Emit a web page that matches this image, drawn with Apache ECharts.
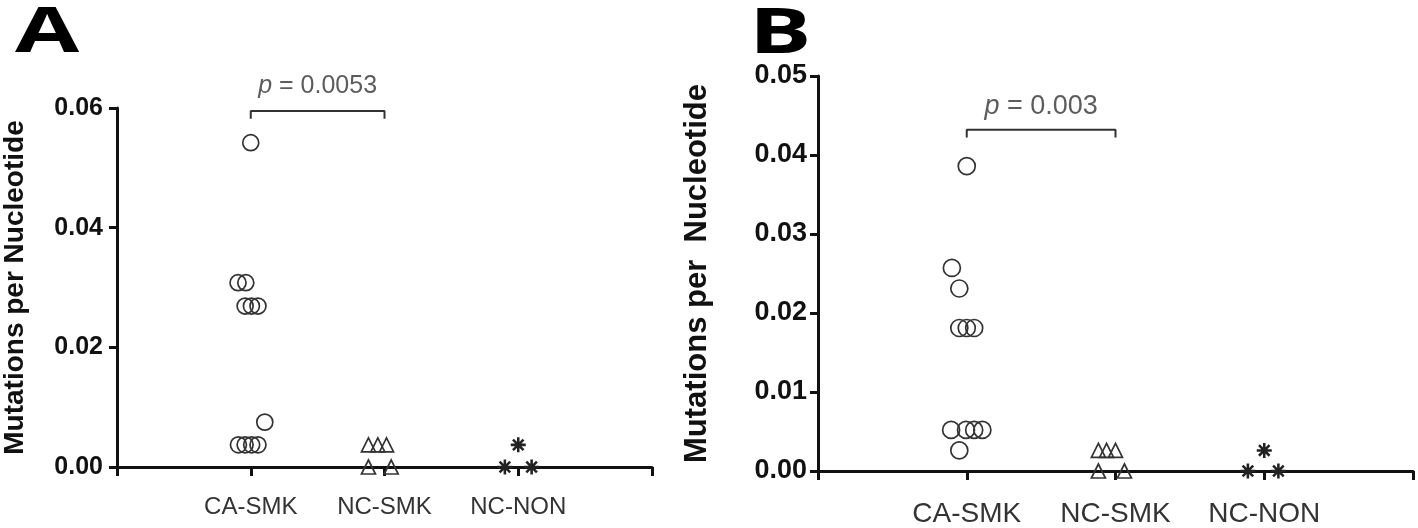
<!DOCTYPE html>
<html>
<head>
<meta charset="utf-8">
<title>Mutations per Nucleotide</title>
<script src="https://cdn.jsdelivr.net/npm/echarts@6/dist/echarts.min.js"></script>
<style>
  html, body { margin: 0; padding: 0; background: #fff; }
  #main { width: 1418px; height: 528px; }
</style>
</head>
<body>
<div id="main"></div>
<script>
// 分组
const categories = ['CA-SMK', 'NC-SMK', 'NC-NON'];

// A 图：数值 + 横向抖动（以分组宽度为单位）
const caSmkA = [0.0542, 0.0308, 0.0308, 0.0269, 0.0269, 0.0269, 0.0075, 0.0037, 0.0037, 0.0037, 0.0037];
const caSmkAJitter = [0, -0.095, -0.037, -0.042, 0.005, 0.054, 0.105, -0.092, -0.042, 0.007, 0.054];
const ncSmkA = [0.0037, 0.0037, 0.0037, 0, 0];
const ncSmkAJitter = [-0.12, -0.05, 0.015, -0.12, 0.05];
const ncNonA = [0.0037, 0, 0];
const ncNonAJitter = [0, -0.1, 0.1];

// B 图
const caSmkB = [0.0386, 0.0257, 0.0231, 0.0181, 0.0181, 0.0181, 0.0052, 0.0052, 0.0052, 0.0052, 0.0026];
const caSmkBJitter = [0, -0.1, -0.05, -0.05, 0, 0.05, -0.105, -0.005, 0.05, 0.105, -0.05];
const ncSmkB = [0.0026, 0.0026, 0.0026, 0, 0];
const ncSmkBJitter = [-0.115, -0.06, 0, -0.115, 0.06];
const ncNonB = [0.0026, 0, 0];
const ncNonBJitter = [0, -0.11, 0.095];

// 显著性标注：[横线高度, 竖脚下端]
const bracketA = [0.0595, 0.0582];
const bracketB = [0.0432, 0.0422];
const pValueA = '0.0053';
const pValueB = '0.003';

const yTicksA = { min: 0, max: 0.06, interval: 0.02 };
const yTicksB = { min: 0, max: 0.05, interval: 0.01 };

const markColor = '#333';
const fontFamily = '"Liberation Sans", Arial, sans-serif';

/**
 * 星号符号（8 条细杆组成）
 */
function asteriskPath() {
  let d = '';
  const c = 10, L = 10, w = 1.7;
  [0, 45, 90, 135].forEach(function (deg) {
    const a = deg * Math.PI / 180;
    const ux = Math.cos(a), uy = Math.sin(a);
    const px = -uy * w, py = ux * w;
    const pts = [
      [c + ux * L + px, c + uy * L + py],
      [c + ux * L - px, c + uy * L - py],
      [c - ux * L - px, c - uy * L - py],
      [c - ux * L + px, c - uy * L + py]
    ];
    d += 'M' + pts.map(p => p[0].toFixed(2) + ' ' + p[1].toFixed(2)).join('L') + 'Z';
  });
  return 'path://' + d;
}
const asterisk = asteriskPath();

function toPoints(catIndex, values, jitter) {
  return values.map((v, i) => [catIndex + 1 + jitter[i], v]);
}

function groupSeries(gridIdx, values, jitter, catIndex, symbol, size) {
  const hollow = symbol !== asterisk;
  return {
    type: 'scatter',
    xAxisIndex: gridIdx,
    yAxisIndex: gridIdx,
    symbol: symbol,
    symbolSize: size,
    data: toPoints(catIndex, values, jitter),
    itemStyle: hollow
      ? { color: 'rgba(0,0,0,0)', borderColor: markColor, borderWidth: 1.7, opacity: 1 }
      : { color: '#222', opacity: 1 },
    silent: true,
    z: 5
  };
}

function bracketSeries(gridIdx, bracket, pValue, labelGap, fontSize) {
  return [{
    type: 'line',
    xAxisIndex: gridIdx,
    yAxisIndex: gridIdx,
    data: [[1, bracket[1]], [1, bracket[0]], [2, bracket[0]], [2, bracket[1]]],
    symbol: 'none',
    lineStyle: { color: markColor, width: 2 },
    silent: true
  }, {
    type: 'scatter',
    xAxisIndex: gridIdx,
    yAxisIndex: gridIdx,
    data: [[1.5, bracket[0]]],
    symbolSize: 0,
    label: {
      show: true,
      position: 'top',
      distance: labelGap,
      formatter: '{i|p} = ' + pValue,
      fontFamily: fontFamily,
      fontSize: fontSize,
      color: markColor,
      rich: {
        i: { fontStyle: 'italic', fontFamily: fontFamily, fontSize: fontSize, color: markColor }
      }
    },
    silent: true
  }];
}

function xAxis(gridIdx, labelSize, margin) {
  return {
    type: 'value',
    gridIndex: gridIdx,
    min: 0,
    max: 4,
    interval: 1,
    splitLine: { show: false },
    axisLine: { show: true, onZero: true, lineStyle: { color: '#111', width: 3 } },
    axisTick: { show: true, length: 9, lineStyle: { color: '#111', width: 3 } },
    axisLabel: {
      margin: margin,
      fontFamily: fontFamily,
      fontSize: labelSize,
      color: '#333',
      formatter: v => categories[v - 1] || ''
    }
  };
}

function yAxis(gridIdx, ticks, labelSize, margin, name, nameGap, nameSize) {
  return {
    type: 'value',
    gridIndex: gridIdx,
    min: ticks.min,
    max: ticks.max,
    interval: ticks.interval,
    name: name,
    nameLocation: 'middle',
    nameRotate: 90,
    nameGap: nameGap,
    nameTextStyle: { fontFamily: fontFamily, fontWeight: 'bold', fontSize: nameSize, color: '#111' },
    splitLine: { show: false },
    axisLine: { show: true, lineStyle: { color: '#111', width: 3 } },
    axisTick: { show: true, length: 8, lineStyle: { color: '#111', width: 3 } },
    axisLabel: {
      margin: margin,
      fontFamily: fontFamily,
      fontWeight: 'bold',
      fontSize: labelSize,
      color: '#111',
      formatter: v => v.toFixed(2)
    }
  };
}

const chart = echarts.init(document.getElementById('main'), null, { renderer: 'canvas' });

const option = {
  animation: false,
  backgroundColor: '#fff',
  grid: [
    { left: 115, top: 108, width: 537, height: 359 },
    { left: 818, top: 76, width: 595, height: 397 }
  ],
  graphic: [
    {
      type: 'text', x: 15, y: 3, scaleX: 1.5,
      style: { text: 'A', font: 'bold 62px "Open Sans", sans-serif', fill: '#000' }
    },
    {
      type: 'text', x: 749, y: 4, scaleX: 1.5,
      style: { text: 'B', font: 'bold 62px "Open Sans", sans-serif', fill: '#000' }
    }
  ],
  xAxis: [xAxis(0, 24, 28), xAxis(1, 28, 29)],
  yAxis: [
    yAxis(0, yTicksA, 25, 14, 'Mutations per Nucleotide', 88, 28),
    yAxis(1, yTicksB, 27, 11, 'Mutations per  Nucleotide', 105, 31)
  ],
  series: [
    groupSeries(0, caSmkA, caSmkAJitter, 0, 'circle', 16),
    groupSeries(0, ncSmkA, ncSmkAJitter, 1, 'triangle', 14),
    groupSeries(0, ncNonA, ncNonAJitter, 2, asterisk, 15),
    groupSeries(1, caSmkB, caSmkBJitter, 0, 'circle', 17),
    groupSeries(1, ncSmkB, ncSmkBJitter, 1, 'triangle', 14),
    groupSeries(1, ncNonB, ncNonBJitter, 2, asterisk, 15)
  ].concat(bracketSeries(0, bracketA, pValueA, 12, 25), bracketSeries(1, bracketB, pValueB, 10, 27))
};

chart.setOption(option);
</script>
</body>
</html>
